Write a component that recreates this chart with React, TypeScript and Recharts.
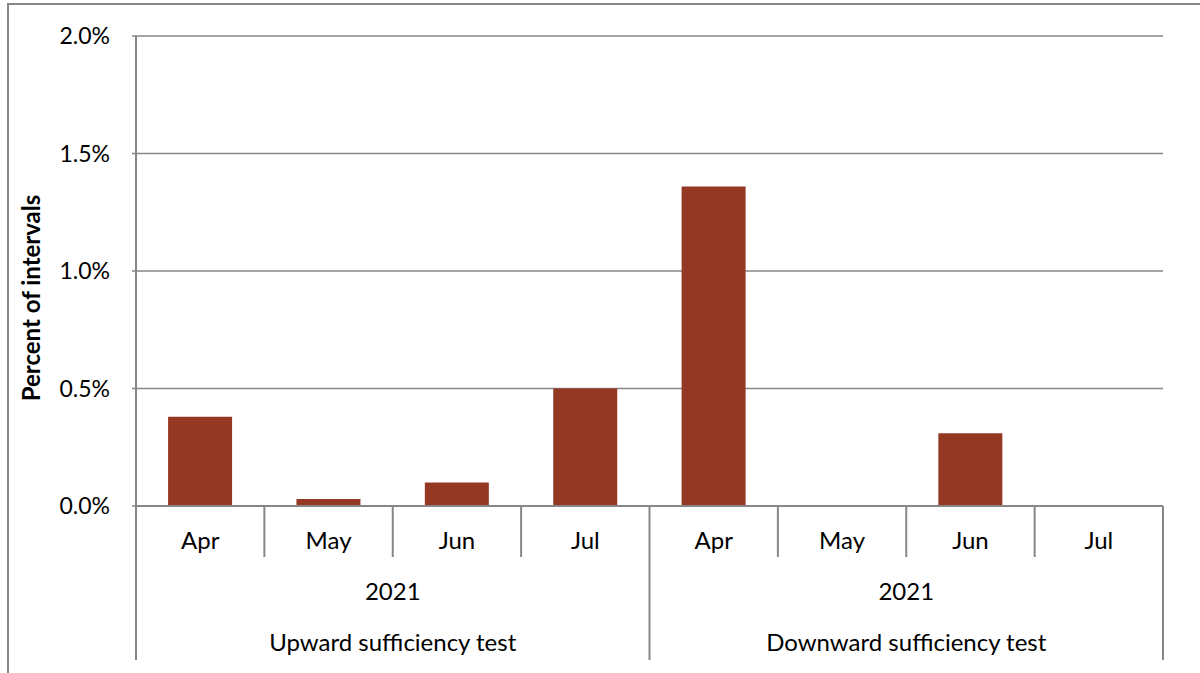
import React from 'react';
import { BarChart, Bar, XAxis, YAxis, CartesianGrid } from 'recharts';

const months = ['Apr', 'May', 'Jun', 'Jul', 'Apr', 'May', 'Jun', 'Jul'];
const years = ['2021', '2021'];
const groups = ['Upward sufficiency test', 'Downward sufficiency test'];
const percentValues = [0.38, 0.03, 0.1, 0.5, 1.36, 0, 0.31, 0];
const yTicks = [0, 0.5, 1, 1.5, 2];

const data = months.map((m, i) => ({ key: i, month: m, value: percentValues[i] }));

const W = 1200;
const H = 673;
const PLOT_LEFT = 136;
const PLOT_RIGHT = 1163;
const PLOT_TOP = 36;
const PLOT_BOTTOM = 506;
const Y_AXIS_W = 60;
const BAND = (PLOT_RIGHT - PLOT_LEFT) / months.length;
const GRAY = '#868686';
const FONT = 'Lato, "Open Sans", sans-serif';
const FS = 24;

const MonthTick = (props: any) => {
  const { x, index } = props;
  const per = months.length / groups.length;
  const right = x + BAND / 2;
  const left = x - BAND / 2;
  const isGroupEnd = (index + 1) % per === 0;
  const items: React.ReactNode[] = [];
  items.push(
    <text key="m" x={x} y={549} textAnchor="middle" fontSize={FS} fontFamily={FONT} fill="#000">
      {months[index]}
    </text>
  );
  items.push(
    <line key="sep" x1={right} x2={right} y1={PLOT_BOTTOM} y2={isGroupEnd ? 660 : 557} stroke={GRAY} strokeWidth={2} />
  );
  if (index === 0) {
    items.push(<line key="l" x1={left} x2={left} y1={PLOT_BOTTOM} y2={660} stroke={GRAY} strokeWidth={2} />);
  }
  if (index % per === per / 2 - 1) {
    const g = Math.floor(index / per);
    items.push(
      <text key="y" x={right} y={600} textAnchor="middle" fontSize={FS} fontFamily={FONT} fill="#000">
        {years[g]}
      </text>
    );
    items.push(
      <text key="g" x={right} y={651} textAnchor="middle" fontSize={FS} fontFamily={FONT} fill="#000">
        {groups[g]}
      </text>
    );
  }
  return <g>{items}</g>;
};

const YLabel = () => (
  <text
    x={40}
    y={298}
    transform="rotate(-90 40 298)"
    textAnchor="middle"
    fontSize={FS}
    fontWeight="bold"
    fontFamily={FONT}
    fill="#000"
  >
    Percent of intervals
  </text>
);

export default function App() {
  return (
    <div style={{ position: 'absolute', left: 0, top: 0, width: W, height: H, overflow: 'hidden', background: '#fff' }}>
      <div
        style={{
          position: 'absolute',
          left: 7,
          top: 3,
          width: W + 50,
          height: H + 50,
          borderLeft: `2px solid ${GRAY}`,
          borderTop: `2px solid ${GRAY}`,
        }}
      />
      <BarChart
        width={W}
        height={H}
        data={data}
        barCategoryGap="25%"
        margin={{ top: PLOT_TOP, right: W - PLOT_RIGHT, left: PLOT_LEFT - Y_AXIS_W, bottom: 7 }}
        style={{ position: 'absolute', left: 0, top: 0 }}
      >
        <CartesianGrid vertical={false} stroke={GRAY} strokeWidth={1.5} />
        <XAxis
          dataKey="key"
          interval={0}
          height={H - PLOT_BOTTOM - 7}
          tickLine={false}
          axisLine={{ stroke: GRAY, strokeWidth: 2 }}
          tick={<MonthTick />}
        />
        <YAxis
          width={Y_AXIS_W}
          domain={[0, 2]}
          ticks={yTicks}
          tickSize={4}
          tickMargin={22}
          tickLine={{ stroke: GRAY, strokeWidth: 1.5 }}
          axisLine={{ stroke: GRAY, strokeWidth: 2 }}
          tick={{ fontSize: 23, fontFamily: FONT, fill: '#000' }}
          tickFormatter={(v: number) => v.toFixed(1) + '%'}
          label={{ content: () => <YLabel /> }}
        />
        <YAxis
          yAxisId="r"
          orientation="right"
          width={0}
          domain={[0, 2]}
          tick={false}
          tickLine={false}
          axisLine={{ stroke: GRAY, strokeWidth: 2 }}
        />
        <Bar dataKey="value" fill="#953823" isAnimationActive={false} />
      </BarChart>
    </div>
  );
}
